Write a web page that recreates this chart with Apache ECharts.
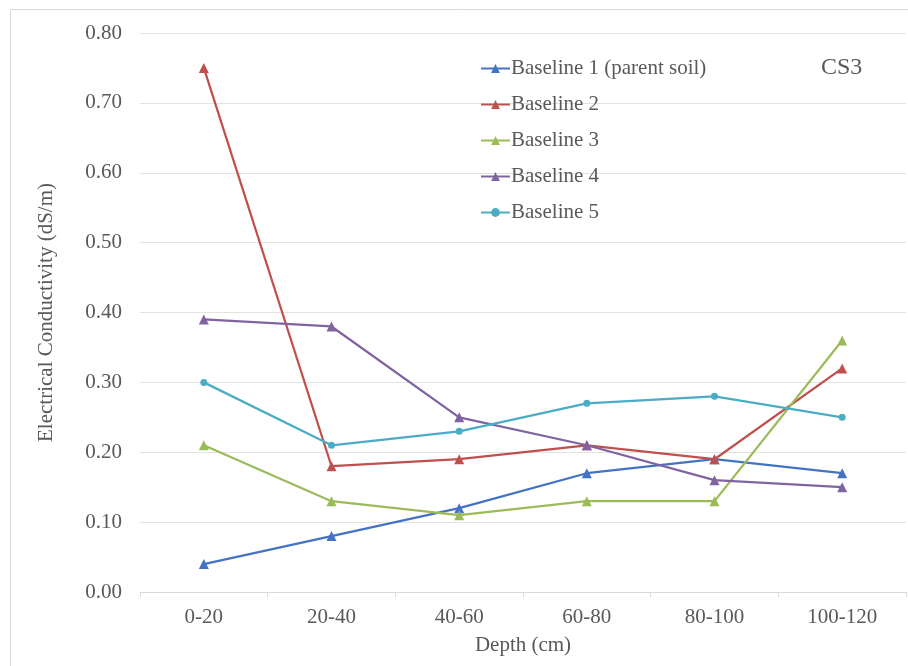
<!DOCTYPE html>
<html>
<head>
<meta charset="utf-8">
<script src="https://cdn.jsdelivr.net/npm/echarts@6/dist/echarts.min.js"></script>
<style>
  html, body { margin: 0; padding: 0; background: #fff; }
  #chart { width: 908px; height: 666px; }
</style>
</head>
<body>
<div id="chart"></div>
<script>
// depth classes
const depths = ['0-20', '20-40', '40-60', '60-80', '80-100', '100-120'];
// EC values per baseline (dS/m)
const baseline1 = [0.04, 0.08, 0.12, 0.17, 0.19, 0.17];
const baseline2 = [0.75, 0.18, 0.19, 0.21, 0.19, 0.32];
const baseline3 = [0.21, 0.13, 0.11, 0.13, 0.13, 0.36];
const baseline4 = [0.39, 0.38, 0.25, 0.21, 0.16, 0.15];
const baseline5 = [0.30, 0.21, 0.23, 0.27, 0.28, 0.25];
const seriesNames = ['Baseline 1 (parent soil)', 'Baseline 2', 'Baseline 3', 'Baseline 4', 'Baseline 5'];
const colors = ['#4472C4', '#C0504D', '#9BBB59', '#8064A2', '#4BACC6'];

const font = 'Liberation Serif';
const textColor = '#595959';

const chart = echarts.init(document.getElementById('chart'));

function lineSeries(name, data, color, symbol, size) {
  return {
    name: name,
    type: 'line',
    data: data,
    symbol: symbol,
    symbolSize: size,
    lineStyle: { color: color, width: 2.25 },
    itemStyle: { color: color },
    emphasis: { disabled: true },
  };
}

chart.setOption({
  animation: false,
  color: colors,
  textStyle: { fontFamily: font },
  graphic: [
    {
      type: 'rect',
      shape: { x: 10.5, y: 9.5, width: 910, height: 670 },
      style: { fill: 'none', stroke: '#d9d9d9', lineWidth: 1 },
      silent: true,
    },
    {
      type: 'text',
      left: 821,
      top: 56,
      style: { text: 'CS3', font: '24px "Liberation Serif"', fill: textColor },
    },
  ],
  grid: { left: 140, right: 2, top: 33, bottom: 74, containLabel: false },
  legend: {
    orient: 'vertical',
    left: 475,
    top: 53,
    itemGap: 15,
    itemWidth: 29,
    itemHeight: 11,
    data: seriesNames,
    textStyle: { fontFamily: font, fontSize: 21, lineHeight: 21, color: textColor, padding: [0, 0, 0, -4] },
  },
  xAxis: {
    type: 'category',
    data: depths,
    boundaryGap: true,
    name: 'Depth (cm)',
    nameLocation: 'middle',
    nameGap: 43,
    nameTextStyle: { fontFamily: font, fontSize: 21, color: textColor },
    axisLine: { lineStyle: { color: '#d9d9d9', width: 1 } },
    axisTick: { show: true, length: 5, lineStyle: { color: '#d9d9d9' } },
    axisLabel: { fontFamily: font, fontSize: 21, color: textColor, margin: 15 },
  },
  yAxis: {
    type: 'value',
    min: 0,
    max: 0.8,
    interval: 0.1,
    name: 'Electrical Conductivity (dS/m)',
    nameLocation: 'middle',
    nameGap: 83,
    nameTextStyle: { fontFamily: font, fontSize: 21, color: textColor },
    axisLine: { show: false },
    axisTick: { show: false },
    splitLine: { lineStyle: { color: '#e3e3e3', width: 1 } },
    axisLabel: {
      fontFamily: font,
      fontSize: 21,
      color: textColor,
      margin: 18,
      formatter: (v) => v.toFixed(2),
    },
  },
  series: [
    lineSeries(seriesNames[0], baseline1, colors[0], 'triangle', 10),
    lineSeries(seriesNames[1], baseline2, colors[1], 'triangle', 10),
    lineSeries(seriesNames[2], baseline3, colors[2], 'triangle', 10),
    lineSeries(seriesNames[3], baseline4, colors[3], 'triangle', 10),
    lineSeries(seriesNames[4], baseline5, colors[4], 'circle', 7),
  ],
});
</script>
</body>
</html>
